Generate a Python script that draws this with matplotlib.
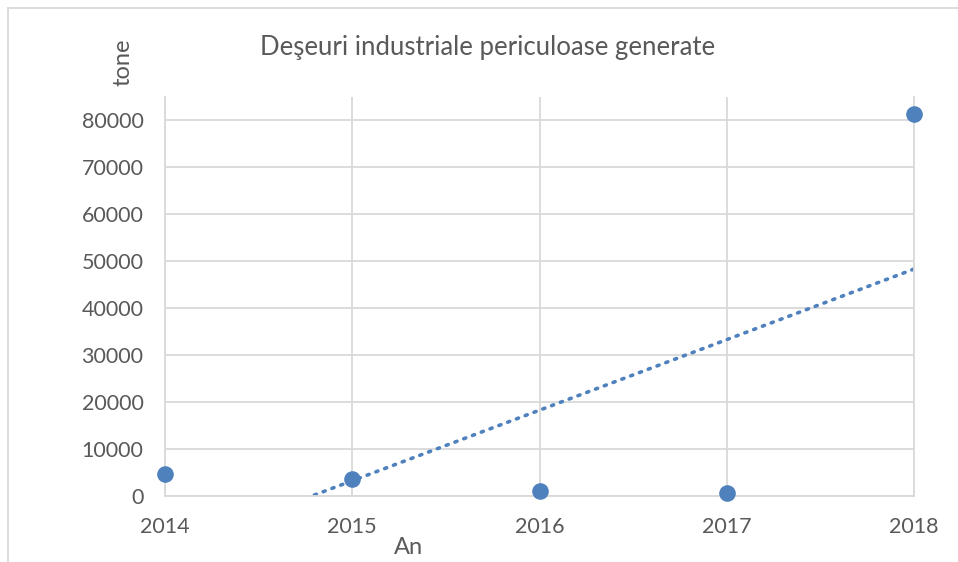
import numpy as np
import matplotlib.pyplot as plt
from matplotlib.lines import Line2D

# valori anuale
years = [2014, 2015, 2016, 2017, 2018]
tone = [4680, 3620, 1100, 700, 81200]

y_ticks = [0, 10000, 20000, 30000, 40000, 50000, 60000, 70000, 80000]

blue = '#4f81bd'
grid_col = '#d9d9d9'
text_col = '#595959'

plt.rcParams['font.family'] = ['Lato', 'DejaVu Sans']

fig = plt.figure(figsize=(9.58, 5.62), dpi=100)
ax = fig.add_axes([165 / 958, 1 - 496 / 562, (914 - 165) / 958, (496 - 97) / 562])

# linie de tendinta liniara
coef = np.polyfit(years, tone, 1)
xt = np.array([years[0], years[-1]])
ax.plot(xt, np.polyval(coef, xt), linestyle=(0, (0.6, 2.0)), color=blue,
        linewidth=2.6, dash_capstyle='round', zorder=2)

ax.scatter(years, tone, s=120, color=blue, zorder=3, clip_on=False)

ax.set_xlim(2014, 2018)
ax.set_ylim(0, 84900)
ax.set_xticks(years)
ax.set_yticks(y_ticks)
ax.set_yticklabels([str(v) for v in y_ticks])

ax.grid(True, color=grid_col, linewidth=1.3)
ax.set_axisbelow(True)
for side in ['left', 'right', 'bottom']:
    ax.spines[side].set_color(grid_col)
    ax.spines[side].set_linewidth(1.3)
ax.spines['top'].set_visible(False)
ax.tick_params(length=0, colors=text_col, labelsize=15.5)
ax.tick_params(axis='x', pad=15)
ax.tick_params(axis='y', pad=15.5)

fig.text(488 / 958, 1 - 47 / 562, 'Deşeuri industriale periculoase generate',
         ha='center', va='center', fontsize=18.5, color=text_col)
fig.text(123 / 958, 1 - 62 / 562, 'tone', rotation=90,
         ha='center', va='center', fontsize=17, color=text_col)
fig.text(408 / 958, 1 - 548 / 562, 'An',
         ha='center', va='center', fontsize=17, color=text_col)

# chenarul exterior
fig.add_artist(Line2D([8 / 958, 8 / 958], [0, 1 - 8 / 562], color=grid_col,
                      linewidth=1.3, transform=fig.transFigure))
fig.add_artist(Line2D([8 / 958, 1], [1 - 8 / 562, 1 - 8 / 562], color=grid_col,
                      linewidth=1.3, transform=fig.transFigure))

fig.savefig('out.png', dpi=100)
